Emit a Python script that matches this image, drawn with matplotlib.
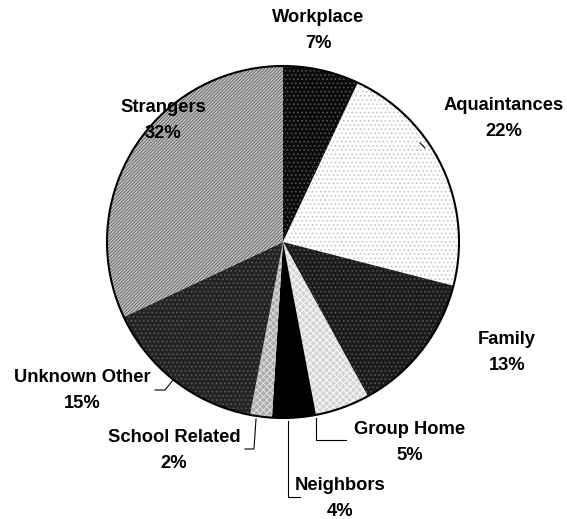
import matplotlib
matplotlib.use("Agg")
import matplotlib.pyplot as plt
from matplotlib.patches import Circle

plt.rcParams['hatch.linewidth'] = 0.6

categories = ["Workplace", "Aquaintances", "Family", "Group Home",
              "Neighbors", "School Related", "Unknown Other", "Strangers"]
values = [7, 22, 13, 5, 4, 2, 15, 32]
pct_labels = ["7%", "22%", "13%", "5%", "4%", "2%", "15%", "32%"]

faces = ["#0c0c0c", "#ffffff", "#1c1c1c", "#d4d4d4", "#000000", "#acacac", "#242424", "#c4c4c4"]
hatch_cols = ["#5a5a5a", "#c0c0c0", "#5a5a5a", "#ffffff", "#000000", "#e6e6e6", "#5e5e5e", "#5a5a5a"]
hatches = ["....", "....", "....", "xxxxx", None, "xxxxx", "....", "//////////"]

W, H = 567, 519
fig = plt.figure(figsize=(W / 100, H / 100), dpi=100)
ax = fig.add_axes([0, 0, 1, 1])

cx, cy, R = 283, H - 242, 176
wedges, _ = ax.pie(values, center=(cx, cy), radius=R, startangle=90,
                   counterclock=False, frame=False)
for w, fc, hc, ht in zip(wedges, faces, hatch_cols, hatches):
    w.set_facecolor(fc)
    w.set_edgecolor(hc)
    w.set_linewidth(0)
    if ht:
        w.set_hatch(ht)
ax.add_patch(Circle((cx, cy), R, fill=False, edgecolor="black", linewidth=1.5, zorder=5))

ax.set_xlim(0, W)
ax.set_ylim(0, H)
ax.set_aspect("auto")
ax.axis("off")

# label positions (pixel coords: x, y of first line center)
label_pos = {
    "Workplace": (318, 18),
    "Aquaintances": (504, 105),
    "Family": (507, 339),
    "Group Home": (410, 430),
    "Neighbors": (340, 486),
    "School Related": (174, 437),
    "Unknown Other": (82, 378),
    "Strangers": (163, 107),
}
gap = 26
for cat, pct in zip(categories, pct_labels):
    x, y = label_pos[cat]
    for i, s in enumerate((cat, pct)):
        ax.text(x, H - (y + i * gap), s, ha="center", va="center",
                fontsize=13.2, fontweight="bold", family="Liberation Sans",
                color="black")

# leader lines (pixel coords)
leaders = [
    [(316, 418), (316, 440), (346, 440)],
    [(288, 421), (288, 497), (300, 497)],
    [(256, 419), (254, 449), (245, 449)],
    [(173, 380), (165, 390), (155, 390)],
    [(425, 148), (420, 143)],
]
for pts in leaders:
    xs = [p[0] for p in pts]
    ys = [H - p[1] for p in pts]
    ax.plot(xs, ys, color="black", linewidth=0.8)

fig.savefig("out.png", dpi=100)
